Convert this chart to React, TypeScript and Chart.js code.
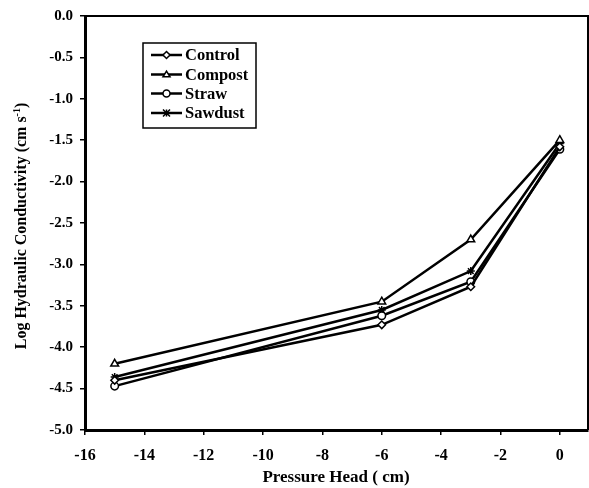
import React, { useEffect, useRef } from "react";
import { Chart, registerables } from "chart.js";

Chart.register(...registerables);

const pressureHead = [-15, -6, -3, 0];
const control = [-4.4, -3.73, -3.27, -1.58];
const compost = [-4.2, -3.45, -2.7, -1.5];
const straw = [-4.47, -3.62, -3.21, -1.61];
const sawdust = [-4.36, -3.55, -3.08, -1.54];

const seriesNames = ["Control", "Compost", "Straw", "Sawdust"];
const seriesMarkers = ["rectRot", "triangle", "circle", "star"];
const seriesValues = [control, compost, straw, sawdust];

const xTitle = "Pressure Head ( cm)";
const yTitleMain = "Log Hydraulic Conductivity (cm s";
const yTitleSup = "-1";
const yTitleEnd = ")";

const FONT = '"Liberation Serif", "Times New Roman", serif';

function drawMarker(ctx: CanvasRenderingContext2D, style: string, x: number, y: number, r: number) {
  ctx.save();
  ctx.fillStyle = "#fff";
  ctx.strokeStyle = "#000";
  ctx.lineWidth = 1.5;
  ctx.beginPath();
  if (style === "rectRot") {
    ctx.moveTo(x, y - r);
    ctx.lineTo(x + r, y);
    ctx.lineTo(x, y + r);
    ctx.lineTo(x - r, y);
    ctx.closePath();
    ctx.fill();
    ctx.stroke();
  } else if (style === "triangle") {
    const h = r * 1.6;
    ctx.moveTo(x, y - h * 0.6);
    ctx.lineTo(x + r, y + h * 0.4);
    ctx.lineTo(x - r, y + h * 0.4);
    ctx.closePath();
    ctx.fill();
    ctx.stroke();
  } else if (style === "circle") {
    ctx.arc(x, y, r, 0, Math.PI * 2);
    ctx.fill();
    ctx.stroke();
  } else {
    ctx.moveTo(x - r, y - r);
    ctx.lineTo(x + r, y + r);
    ctx.moveTo(x + r, y - r);
    ctx.lineTo(x - r, y + r);
    ctx.moveTo(x, y - r);
    ctx.lineTo(x, y + r);
    ctx.stroke();
  }
  ctx.restore();
}

const decorPlugin = {
  id: "decor",
  afterDraw(chart: any) {
    const ctx: CanvasRenderingContext2D = chart.ctx;
    const a = chart.chartArea;
    ctx.save();
    // top and right border
    ctx.strokeStyle = "#000";
    ctx.lineWidth = 2;
    ctx.beginPath();
    ctx.moveTo(a.left, a.top);
    ctx.lineTo(a.right, a.top);
    ctx.lineTo(a.right, a.bottom);
    ctx.stroke();

    // x title
    ctx.fillStyle = "#000";
    ctx.font = `bold 17px ${FONT}`;
    ctx.textAlign = "center";
    ctx.textBaseline = "middle";
    ctx.fillText(xTitle, 336, 478);

    // y title with superscript
    ctx.save();
    ctx.translate(22, 226);
    ctx.rotate(-Math.PI / 2);
    ctx.font = `bold 16px ${FONT}`;
    const w1 = ctx.measureText(yTitleMain).width;
    ctx.font = `bold 10px ${FONT}`;
    const w2 = ctx.measureText(yTitleSup).width;
    ctx.font = `bold 16px ${FONT}`;
    const w3 = ctx.measureText(yTitleEnd).width;
    const total = w1 + w2 + w3;
    let x0 = -total / 2;
    ctx.textAlign = "left";
    ctx.textBaseline = "middle";
    ctx.fillText(yTitleMain, x0, 0);
    x0 += w1;
    ctx.font = `bold 10px ${FONT}`;
    ctx.fillText(yTitleSup, x0, -5);
    x0 += w2;
    ctx.font = `bold 16px ${FONT}`;
    ctx.fillText(yTitleEnd, x0, 0);
    ctx.restore();

    // legend
    const lx = 143, ly = 43, lw = 113, lh = 85;
    ctx.fillStyle = "#fff";
    ctx.fillRect(lx, ly, lw, lh);
    ctx.strokeStyle = "#000";
    ctx.lineWidth = 1.5;
    ctx.strokeRect(lx, ly, lw, lh);
    const rows = [55, 74.5, 93.5, 113];
    seriesNames.forEach((name, i) => {
      const y = rows[i];
      ctx.strokeStyle = "#000";
      ctx.lineWidth = 2.5;
      ctx.beginPath();
      ctx.moveTo(151, y);
      ctx.lineTo(182, y);
      ctx.stroke();
      drawMarker(ctx, seriesMarkers[i], 166.5, y, 3.5);
      ctx.fillStyle = "#000";
      ctx.font = `bold 16.5px ${FONT}`;
      ctx.textAlign = "left";
      ctx.textBaseline = "middle";
      ctx.fillText(name, 185, y + 1);
    });
    ctx.restore();
  },
};

export default function App() {
  const ref = useRef<HTMLCanvasElement | null>(null);
  useEffect(() => {
    if (!ref.current) return;
    const datasets = seriesNames.map((name, i) => ({
      label: name,
      data: pressureHead.map((x, j) => ({ x, y: seriesValues[i][j] })),
      borderColor: "#000",
      backgroundColor: "#fff",
      borderWidth: 2.5,
      pointStyle: seriesMarkers[i] as any,
      pointRadius: seriesMarkers[i] === "triangle" ? 4.5 : seriesMarkers[i] === "star" ? 4 : 3.8,
      pointBorderWidth: 1.5,
      pointBorderColor: "#000",
      pointBackgroundColor: "#fff",
      showLine: true,
      tension: 0,
    }));
    const chart = new Chart(ref.current, {
      type: "scatter",
      data: { datasets },
      plugins: [decorPlugin],
      options: {
        responsive: false,
        animation: false,
        layout: { autoPadding: false, padding: { top: 16, right: 1, left: 0, bottom: 0 } },
        plugins: { legend: { display: false }, tooltip: { enabled: false } },
        scales: {
          x: {
            type: "linear",
            min: -16,
            max: 0.95,
            afterFit: (s: any) => {
              s.height = 58;
              s.paddingRight = 0;
              s.paddingLeft = 0;
            },
            ticks: {
              stepSize: 2,
              includeBounds: false,
              color: "#000",
              font: { family: FONT, size: 16, weight: "bold" },
              padding: 11,
              maxRotation: 0,
            },
            grid: { drawOnChartArea: false, tickLength: 5, color: "#000", lineWidth: 1.5 },
            border: { display: true, color: "#000", width: 3 },
          },
          y: {
            type: "linear",
            min: -5,
            max: 0,
            afterFit: (s: any) => {
              s.width = 85;
              s.paddingTop = 0;
              s.paddingBottom = 0;
            },
            ticks: {
              stepSize: 0.5,
              color: "#000",
              font: { family: FONT, size: 15, weight: "bold" },
              padding: 7,
              callback: (v: any) => Number(v).toFixed(1),
            },
            grid: { drawOnChartArea: false, tickLength: 5, color: "#000", lineWidth: 1.5 },
            border: { display: true, color: "#000", width: 3 },
          },
        },
      },
    });
    return () => chart.destroy();
  }, []);
  return (
    <div style={{ position: "absolute", left: 0, top: 0, width: 589, height: 488, background: "#fff" }}>
      <canvas ref={ref} width={589} height={488} style={{ display: "block" }} />
    </div>
  );
}
